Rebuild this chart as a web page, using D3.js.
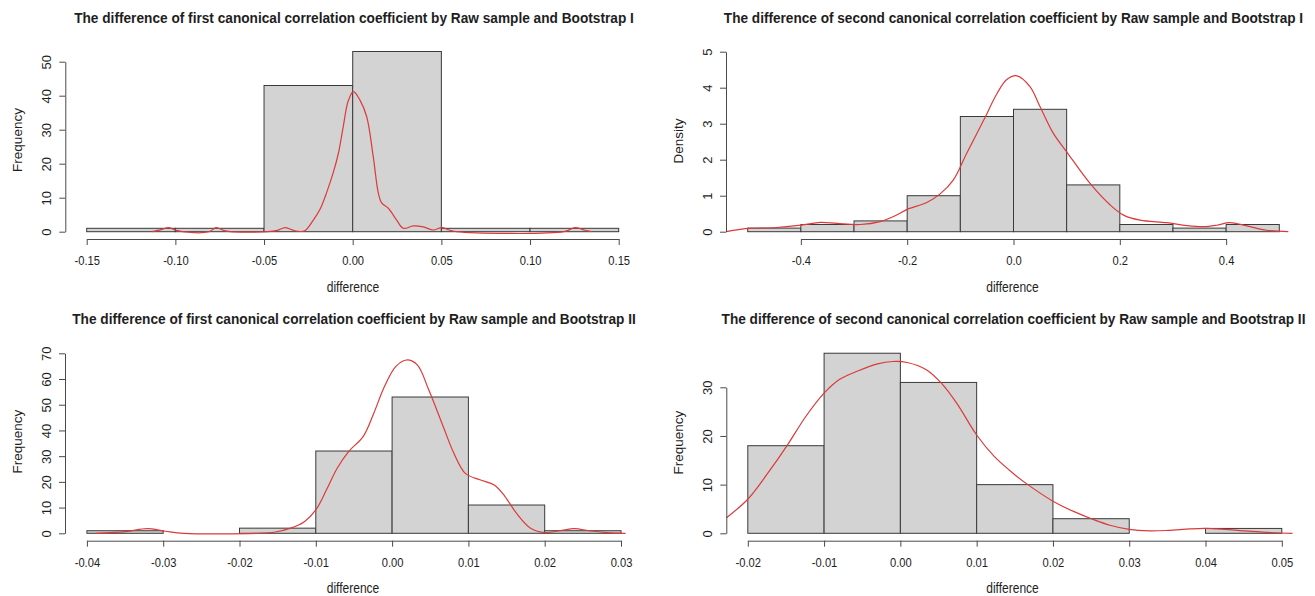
<!DOCTYPE html>
<html>
<head>
<meta charset="utf-8">
<script src="https://cdn.jsdelivr.net/npm/d3@7"></script>
<style>
  body { margin: 0; background: #fff; }
  svg { display: block; }
  text { font-family: "Liberation Sans", Arial, sans-serif; fill: #1e1e1e; }
</style>
</head>
<body>
<svg id="chart" width="1315" height="596"></svg>
<script>
// ---- Titles and axis captions ----
const titles = [
  "The difference of first canonical correlation coefficient by Raw sample and Bootstrap I",
  "The difference of second canonical correlation coefficient by Raw sample and Bootstrap I",
  "The difference of first canonical correlation coefficient by Raw sample and Bootstrap II",
  "The difference of second canonical correlation coefficient by Raw sample and Bootstrap II"
];
const xCaptions = ["difference", "difference", "difference", "difference"];
const yCaptions = ["Frequency", "Density", "Frequency", "Frequency"];

// ---- Panel 1: first coefficient, Bootstrap I (counts) ----
const p1Breaks = [-0.15, -0.10, -0.05, 0.00, 0.05, 0.10, 0.15];
const p1Counts = [1, 1, 43, 53, 1, 1];
const p1CurveX = [-0.1133, -0.108, -0.104, -0.100, -0.096, -0.081, -0.077, -0.073, -0.069, -0.048, -0.0425,
                  -0.0382, -0.0345, -0.031, -0.027, -0.0222, -0.0185, -0.0147, -0.0109, -0.0081, -0.0053,
                  -0.0025, 0.0004, 0.0041, 0.0079, 0.0116, 0.0144, 0.0163, 0.0201, 0.0248, 0.0285, 0.0342,
                  0.0398, 0.0454, 0.0502, 0.0545, 0.0586, 0.119, 0.1254, 0.1305, 0.1348];
const p1CurveY = [0, 0.6, 1.2, 0.5, 0, 0, 1.2, 0.4, 0, 0, 0.4,
                  1.2, 0.6, 0.1, 0.3, 3.4, 6.5, 11.5, 17.5, 23, 31,
                  38.5, 41.2, 38.7, 33.8, 22, 11.5, 8.5, 6.9, 3.4, 1.0, 1.7,
                  1.4, 0.5, 1.2, 0.5, 0, 0, 1.2, 0.5, 0];
const p1XTicks = [-0.15, -0.10, -0.05, 0.00, 0.05, 0.10, 0.15];
const p1XLabels = ["-0.15", "-0.10", "-0.05", "0.00", "0.05", "0.10", "0.15"];
const p1YTicks = [0, 10, 20, 30, 40, 50];
const p1YLabels = ["0", "10", "20", "30", "40", "50"];

// ---- Panel 2: second coefficient, Bootstrap I (density) ----
const p2Breaks = [-0.5, -0.4, -0.3, -0.2, -0.1, 0.0, 0.1, 0.2, 0.3, 0.4, 0.5];
const p2Density = [0.1, 0.2, 0.3, 1.0, 3.2, 3.4, 1.3, 0.2, 0.1, 0.2];
const p2CurveX = [-0.540, -0.500, -0.451, -0.400, -0.363, -0.332, -0.288, -0.251, -0.219, -0.200, -0.163,
                  -0.138, -0.113, -0.088, -0.056, -0.031, -0.0125, 0.0064, 0.031, 0.050, 0.075, 0.100,
                  0.144, 0.182, 0.207, 0.238, 0.288, 0.326, 0.357, 0.382, 0.407, 0.439, 0.476, 0.517];
const p2CurveY = [0.0, 0.09, 0.11, 0.18, 0.26, 0.23, 0.2, 0.28, 0.47, 0.62, 0.81,
                  1.05, 1.44, 2.18, 3.1, 3.84, 4.23, 4.33, 4.03, 3.47, 2.73, 2.22,
                  1.34, 0.74, 0.46, 0.32, 0.25, 0.17, 0.14, 0.18, 0.25, 0.16, 0.04, 0.0];
const p2XTicks = [-0.4, -0.2, 0.0, 0.2, 0.4];
const p2XLabels = ["-0.4", "-0.2", "0.0", "0.2", "0.4"];
const p2YTicks = [0, 1, 2, 3, 4, 5];
const p2YLabels = ["0", "1", "2", "3", "4", "5"];

// ---- Panel 3: first coefficient, Bootstrap II (counts) ----
const p3Breaks = [-0.04, -0.03, -0.02, -0.01, 0.00, 0.01, 0.02, 0.03];
const p3Counts = [1, 0, 2, 32, 53, 11, 1];
const p3CurveX = [-0.0388, -0.0349, -0.0321, -0.0297, -0.0273, -0.0177, -0.0153, -0.0134, -0.0115, -0.0100,
                  -0.0086, -0.0072, -0.0057, -0.0038, -0.0024, -0.0010, 0.0005, 0.0019, 0.0033, 0.0048,
                  0.0067, 0.0081, 0.0096, 0.0115, 0.0134, 0.0148, 0.0163, 0.0182, 0.0201, 0.0220,
                  0.0239, 0.0258, 0.0282, 0.0306];
const p3CurveY = [0, 0.65, 1.8, 0.8, 0, 0, 0.5, 1.9, 4.5, 9.1,
                  16.9, 25.3, 31.8, 37.6, 46.7, 57.1, 64.9, 67.4, 65.5, 55.8,
                  41.5, 31.1, 23.3, 20.8, 18.8, 14.3, 7.8, 1.9, 0.3, 1.0,
                  1.8, 1.0, 0.3, 0];
const p3XTicks = [-0.04, -0.03, -0.02, -0.01, 0.00, 0.01, 0.02, 0.03];
const p3XLabels = ["-0.04", "-0.03", "-0.02", "-0.01", "0.00", "0.01", "0.02", "0.03"];
const p3YTicks = [0, 10, 20, 30, 40, 50, 60, 70];
const p3YLabels = ["0", "10", "20", "30", "40", "50", "60", "70"];

// ---- Panel 4: second coefficient, Bootstrap II (counts) ----
const p4Breaks = [-0.02, -0.01, 0.00, 0.01, 0.02, 0.03, 0.04, 0.05];
const p4Counts = [18, 37, 31, 10, 3, 0, 1];
const p4CurveX = [-0.0228, -0.0200, -0.0174, -0.0149, -0.0124, -0.0100, -0.0080, -0.0055, -0.0030, -0.0010,
                  0.0009, 0.0034, 0.0054, 0.0074, 0.0100, 0.0123, 0.0148, 0.0168, 0.0200, 0.0227,
                  0.0252, 0.0276, 0.0300, 0.0326, 0.0351, 0.0380, 0.0400, 0.0425, 0.0450, 0.0480, 0.0514];
const p4CurveY = [3.2, 7.0, 12.3, 17.9, 24.0, 28.8, 31.6, 33.4, 34.8, 35.3,
                  35.1, 33.6, 30.8, 26.7, 20.2, 15.8, 12.3, 9.9, 6.6, 4.5,
                  2.9, 1.6, 0.8, 0.5, 0.6, 0.9, 1.0, 0.8, 0.5, 0.2, 0];
const p4XTicks = [-0.02, -0.01, 0.00, 0.01, 0.02, 0.03, 0.04, 0.05];
const p4XLabels = ["-0.02", "-0.01", "0.00", "0.01", "0.02", "0.03", "0.04", "0.05"];
const p4YTicks = [0, 10, 20, 30];
const p4YLabels = ["0", "10", "20", "30"];

// ---- Layout of the four panels (pixel geometry) ----
const panels = [
  { title: titles[0], xCap: xCaptions[0], yCap: yCaptions[0],
    breaks: p1Breaks, heights: p1Counts, cx: p1CurveX, cy: p1CurveY,
    xTicks: p1XTicks, xLabels: p1XLabels, yTicks: p1YTicks, yLabels: p1YLabels,
    xDomain: [-0.15, 0.15], xRange: [86.7, 618.7], yDomain: [0, 50], yRange: [231.7, 61.7],
    axisX: 65.3, axisY: 239, titleX: 354, titleY: 22.5, titleW: 560,
    xCapX: 353, xCapY: 292, yCapX: 22.4, yCapY: 140 },
  { title: titles[1], xCap: xCaptions[1], yCap: yCaptions[1],
    breaks: p2Breaks, heights: p2Density, cx: p2CurveX, cy: p2CurveY,
    xTicks: p2XTicks, xLabels: p2XLabels, yTicks: p2YTicks, yLabels: p2YLabels,
    xDomain: [-0.5, 0.5], xRange: [747.7, 1279.3], yDomain: [0, 5], yRange: [231.7, 51.7],
    axisX: 726, axisY: 239, titleX: 1013.5, titleY: 22.5, titleW: 580,
    xCapX: 1012.5, xCapY: 292, yCapX: 682.5, yCapY: 141 },
  { title: titles[2], xCap: xCaptions[2], yCap: yCaptions[2],
    breaks: p3Breaks, heights: p3Counts, cx: p3CurveX, cy: p3CurveY,
    xTicks: p3XTicks, xLabels: p3XLabels, yTicks: p3YTicks, yLabels: p3YLabels,
    xDomain: [-0.04, 0.03], xRange: [86.9, 621], yDomain: [0, 70], yRange: [533.3, 353.3],
    axisX: 65, axisY: 540.7, titleX: 354, titleY: 324.3, titleW: 564,
    xCapX: 353, xCapY: 593, yCapX: 22.4, yCapY: 441.7 },
  { title: titles[3], xCap: xCaptions[3], yCap: yCaptions[3],
    breaks: p4Breaks, heights: p4Counts, cx: p4CurveX, cy: p4CurveY,
    xTicks: p4XTicks, xLabels: p4XLabels, yTicks: p4YTicks, yLabels: p4YLabels,
    xDomain: [-0.02, 0.05], xRange: [747.8, 1281.8], yDomain: [0, 30], yRange: [533.3, 387.3],
    axisX: 726.3, axisY: 540.7, titleX: 1013.5, titleY: 324.3, titleW: 584,
    xCapX: 1012.5, xCapY: 593, yCapX: 682.5, yCapY: 442.7 }
];

const svg = d3.select("#chart");
svg.append("rect").attr("width", 1315).attr("height", 596).attr("fill", "#fff");

const AXIS_COLOR = "#4a4a4a";
const TEXT_SQUEEZE = 0.86;

function drawPanel(p) {
  const g = svg.append("g");
  const x = d3.scaleLinear().domain(p.xDomain).range(p.xRange);
  const y = d3.scaleLinear().domain(p.yDomain).range(p.yRange);

  // histogram bars
  const bins = p.heights.map((h, i) => ({ x0: p.breaks[i], x1: p.breaks[i + 1], h }));
  g.append("g").selectAll("rect").data(bins).join("rect")
    .attr("x", d => x(d.x0))
    .attr("y", d => y(d.h))
    .attr("width", d => x(d.x1) - x(d.x0))
    .attr("height", d => y(0) - y(d.h))
    .attr("fill", "#d3d3d3")
    .attr("stroke", "#3a3a3a")
    .attr("stroke-width", 1);

  // kernel density overlay
  const pts = p.cx.map((v, i) => [v, p.cy[i]]);
  const line = d3.line().x(d => x(d[0])).y(d => y(d[1])).curve(d3.curveCatmullRom.alpha(0.5));
  g.append("path").datum(pts)
    .attr("d", line)
    .attr("fill", "none")
    .attr("stroke", "#dc3a3a")
    .attr("stroke-width", 1.2);

  // x axis, spanning the first to last tick only
  const xt0 = p.xTicks[0], xt1 = p.xTicks[p.xTicks.length - 1];
  const xa = x.copy().domain([xt0, xt1]).range([x(xt0), x(xt1)]);
  const gx = g.append("g").attr("transform", `translate(0,${p.axisY})`)
    .call(d3.axisBottom(xa).tickValues(p.xTicks)
      .tickFormat((d, i) => p.xLabels[i]).tickSize(6).tickSizeOuter(0));
  gx.selectAll("path, line").attr("stroke", AXIS_COLOR);
  gx.selectAll("text")
    .attr("y", 26).attr("dy", null)
    .attr("transform", `scale(${TEXT_SQUEEZE},1)`)
    .style("font-size", "13px").attr("fill", "#1e1e1e");

  // y axis with rotated labels
  const yt0 = p.yTicks[0], yt1 = p.yTicks[p.yTicks.length - 1];
  const ya = y.copy().domain([yt0, yt1]).range([y(yt0), y(yt1)]);
  const gy = g.append("g").attr("transform", `translate(${p.axisX},0)`)
    .call(d3.axisLeft(ya).tickValues(p.yTicks)
      .tickFormat((d, i) => p.yLabels[i]).tickSize(6).tickSizeOuter(0));
  gy.selectAll("path, line").attr("stroke", AXIS_COLOR);
  gy.selectAll("text")
    .attr("x", 0).attr("y", 0).attr("dy", null)
    .attr("text-anchor", "middle")
    .attr("transform", "translate(-14.5,0) rotate(-90)")
    .style("font-size", "13px").attr("fill", "#1e1e1e");

  // title: condensed horizontally to its measured width
  const t = g.append("text")
    .attr("text-anchor", "middle")
    .style("font-size", "15px").style("font-weight", "bold")
    .attr("fill", "#111")
    .text(p.title);
  const natural = t.node().getComputedTextLength();
  t.attr("transform", `translate(${p.titleX},${p.titleY}) scale(${p.titleW / natural},1)`);

  // axis captions
  g.append("text")
    .attr("transform", `translate(${p.xCapX},${p.xCapY}) scale(${TEXT_SQUEEZE},1)`)
    .attr("text-anchor", "middle")
    .style("font-size", "14px")
    .text(p.xCap);
  g.append("text")
    .attr("transform", `translate(${p.yCapX},${p.yCapY}) rotate(-90)`)
    .attr("text-anchor", "middle")
    .style("font-size", "13.5px")
    .text(p.yCap);
}

panels.forEach(drawPanel);
</script>
</body>
</html>
